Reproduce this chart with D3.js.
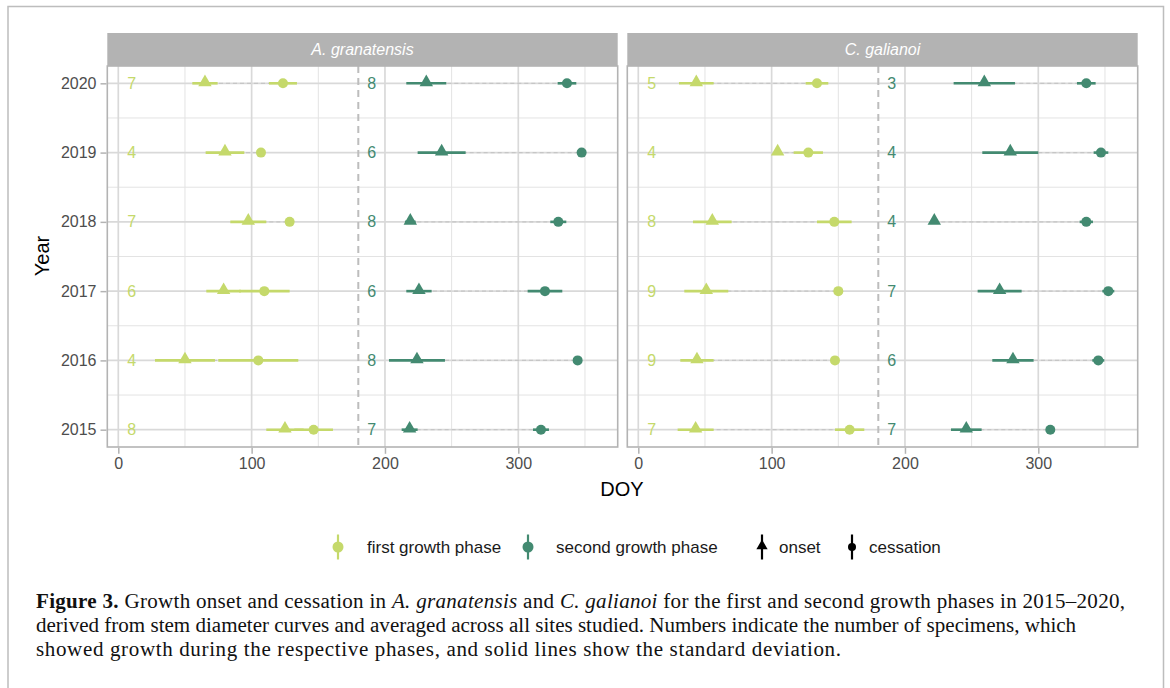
<!DOCTYPE html>
<html>
<head>
<meta charset="utf-8">
<script src="https://cdn.jsdelivr.net/npm/d3@7"></script>
<style>
  body { margin: 0; background: #fff; }
  svg { display: block; }
</style>
</head>
<body>
<div id="chart"></div>
<script>
// ---- data (rows 2020 -> 2015) ----
var years = [2020, 2019, 2018, 2017, 2016, 2015];
var species = ["A. granatensis", "C. galianoi"];
var xTicks = [0, 100, 200, 300];
var xMinor = [50, 150, 250, 350];

// A. granatensis, first growth phase
var agFirstOnset   = [65, 80, 97.5, 79, 50, 125];
var agFirstOnsetSd = [9.5, 14.5, 13.5, 13, 22.5, 14];
var agFirstCess    = [123.5, 107, 128.5, 109.5, 105, 146.5];
var agFirstCessSd  = [10.5, 2, 2, 19, 30, 14.5];
var agFirstN       = [7, 4, 7, 6, 4, 8];
// A. granatensis, second growth phase
var agSecOnset   = [231, 242.5, 219, 225.5, 224, 218.5];
var agSecOnsetSd = [15, 18, 4, 9.5, 21, 6];
var agSecCess    = [336.5, 347.5, 330, 320, 344.5, 317];
var agSecCessSd  = [7, 2, 6, 13, 2, 6];
var agSecN       = [8, 6, 8, 6, 8, 7];
// C. galianoi, first growth phase
var cgFirstOnset   = [43.5, 104.5, 55.5, 51, 44, 43];
var cgFirstOnsetSd = [13, 2, 14.5, 16.5, 12.5, 13.5];
var cgFirstCess    = [134, 127.5, 147, 150, 147.5, 158.5];
var cgFirstCessSd  = [8.5, 11, 13, 2, 2, 11];
var cgFirstN       = [5, 4, 8, 9, 9, 7];
// C. galianoi, second growth phase
var cgSecOnset   = [259.5, 279, 222, 271, 281, 246];
var cgSecOnsetSd = [23, 21, 2, 16.5, 15.5, 11.5];
var cgSecCess    = [336, 347, 336, 352.5, 345, 309];
var cgSecCessSd  = [7, 5.5, 5, 4.5, 4.5, 2];
var cgSecN       = [3, 4, 4, 7, 6, 7];

var phaseBreak = 180;
var labelPos = [10, 190];   // DOY where the counts are printed

var phases = ["first growth phase", "second growth phase"];
var phaseColor = ["#c5d96b", "#438a71"];

function rows(onset, onsetSd, cess, cessSd, n, phase) {
  return years.map(function(y, i) {
    return {year: y, onset: onset[i], onsetSd: onsetSd[i], cess: cess[i], cessSd: cessSd[i], n: n[i], phase: phase};
  });
}
var panels = [
  rows(agFirstOnset, agFirstOnsetSd, agFirstCess, agFirstCessSd, agFirstN, 0)
    .concat(rows(agSecOnset, agSecOnsetSd, agSecCess, agSecCessSd, agSecN, 1)),
  rows(cgFirstOnset, cgFirstOnsetSd, cgFirstCess, cgFirstCessSd, cgFirstN, 0)
    .concat(rows(cgSecOnset, cgSecOnsetSd, cgSecCess, cgSecCessSd, cgSecN, 1))
];

// ---- layout ----
var W = 1170, H = 688;
var panelLeft = [107.3, 627.3], panelW = 510.4;
var panelTop = 66, panelBottom = 447, stripTop = 33;

var svg = d3.select("#chart").append("svg")
  .attr("width", W).attr("height", H);

// outer frame
svg.append("path")
  .attr("d", "M8,700 V6.5 H1163.5 V700")
  .attr("fill", "none").attr("stroke", "#bdbdbd").attr("stroke-width", 1.5);

var y = d3.scaleLinear().domain([2014.75, 2020.25]).range([panelBottom, panelTop]);
var yMinor = d3.range(2015.5, 2020, 1);

var tri = d3.symbol().type(d3.symbolTriangle).size(78);

panels.forEach(function(data, p) {
  var x = d3.scaleLinear().domain([-8.25, 374.55]).range([panelLeft[p], panelLeft[p] + panelW]);
  var g = svg.append("g");

  // strip
  g.append("rect")
    .attr("x", panelLeft[p]).attr("y", stripTop)
    .attr("width", panelW).attr("height", panelTop - stripTop)
    .attr("fill", "#b3b3b3");
  g.append("text")
    .attr("x", panelLeft[p] + panelW / 2).attr("y", (stripTop + panelTop) / 2 + 5.5)
    .attr("text-anchor", "middle")
    .attr("font-family", "Liberation Sans, Arial, sans-serif")
    .attr("font-style", "italic").attr("font-size", 16)
    .attr("fill", "#fff")
    .text(species[p]);

  // grid
  g.selectAll(".gxm").data(xMinor).enter().append("line")
    .attr("x1", x).attr("x2", x).attr("y1", panelTop).attr("y2", panelBottom)
    .attr("stroke", "#e3e3e3").attr("stroke-width", 1);
  g.selectAll(".gym").data(yMinor).enter().append("line")
    .attr("x1", panelLeft[p]).attr("x2", panelLeft[p] + panelW)
    .attr("y1", y).attr("y2", y)
    .attr("stroke", "#e3e3e3").attr("stroke-width", 1);
  g.selectAll(".gx").data(xTicks).enter().append("line")
    .attr("x1", x).attr("x2", x).attr("y1", panelTop).attr("y2", panelBottom)
    .attr("stroke", "#d9d9d9").attr("stroke-width", 1.7);
  g.selectAll(".gy").data(years).enter().append("line")
    .attr("x1", panelLeft[p]).attr("x2", panelLeft[p] + panelW)
    .attr("y1", y).attr("y2", y)
    .attr("stroke", "#d9d9d9").attr("stroke-width", 1.7);

  // phase separator
  g.append("line")
    .attr("x1", x(phaseBreak)).attr("x2", x(phaseBreak))
    .attr("y1", panelTop).attr("y2", panelBottom)
    .attr("stroke", "#bdbdbd").attr("stroke-width", 2)
    .attr("stroke-dasharray", "7,5");

  // onset -> cessation connector
  g.selectAll(".conn").data(data).enter().append("line")
    .attr("x1", function(d) { return x(d.onset); })
    .attr("x2", function(d) { return x(d.cess); })
    .attr("y1", function(d) { return y(d.year); })
    .attr("y2", function(d) { return y(d.year); })
    .attr("stroke", "#c6c6c6").attr("stroke-width", 1.2)
    .attr("stroke-dasharray", "4,3");

  // sd bars
  g.selectAll(".sdo").data(data).enter().append("line")
    .attr("x1", function(d) { return x(d.onset - d.onsetSd); })
    .attr("x2", function(d) { return x(d.onset + d.onsetSd); })
    .attr("y1", function(d) { return y(d.year); })
    .attr("y2", function(d) { return y(d.year); })
    .attr("stroke", function(d) { return phaseColor[d.phase]; })
    .attr("stroke-width", 2.6);
  g.selectAll(".sdc").data(data).enter().append("line")
    .attr("x1", function(d) { return x(d.cess - d.cessSd); })
    .attr("x2", function(d) { return x(d.cess + d.cessSd); })
    .attr("y1", function(d) { return y(d.year); })
    .attr("y2", function(d) { return y(d.year); })
    .attr("stroke", function(d) { return phaseColor[d.phase]; })
    .attr("stroke-width", 2.6);

  // markers
  g.selectAll(".on").data(data).enter().append("path")
    .attr("d", tri)
    .attr("transform", function(d) { return "translate(" + x(d.onset) + "," + (y(d.year) - 1) + ")"; })
    .attr("fill", function(d) { return phaseColor[d.phase]; });
  g.selectAll(".ce").data(data).enter().append("circle")
    .attr("cx", function(d) { return x(d.cess); })
    .attr("cy", function(d) { return y(d.year); })
    .attr("r", 5)
    .attr("fill", function(d) { return phaseColor[d.phase]; });

  // counts
  g.selectAll(".cnt").data(data).enter().append("text")
    .attr("x", function(d) { return x(labelPos[d.phase]); })
    .attr("y", function(d) { return y(d.year) + 5.5; })
    .attr("text-anchor", "middle")
    .attr("font-family", "Liberation Sans, Arial, sans-serif")
    .attr("font-size", 16)
    .attr("fill", function(d) { return phaseColor[d.phase]; })
    .text(function(d) { return d.n; });

  // border
  g.append("rect")
    .attr("x", panelLeft[p]).attr("y", panelTop)
    .attr("width", panelW).attr("height", panelBottom - panelTop)
    .attr("fill", "none").attr("stroke", "#b3b3b3").attr("stroke-width", 1.6);

  // x axis
  var ax = svg.append("g")
    .attr("transform", "translate(0," + (panelBottom + 0.8) + ")")
    .call(d3.axisBottom(x).tickValues(xTicks).tickSize(6).tickPadding(4));
  ax.select(".domain").remove();
  ax.selectAll("line").attr("stroke", "#b3b3b3").attr("stroke-width", 1.5);
  ax.selectAll("text").attr("fill", "#4d4d4d")
    .attr("font-family", "Liberation Sans, Arial, sans-serif").attr("font-size", 16);
});

// y axis
var ay = svg.append("g")
  .attr("transform", "translate(" + (panelLeft[0] - 0.8) + ",0)")
  .call(d3.axisLeft(y).tickValues(years).tickFormat(d3.format("d")).tickSize(6).tickPadding(4));
ay.select(".domain").remove();
ay.selectAll("line").attr("stroke", "#b3b3b3").attr("stroke-width", 1.5);
ay.selectAll("text").attr("fill", "#4d4d4d")
  .attr("font-family", "Liberation Sans, Arial, sans-serif").attr("font-size", 16);

// axis titles
svg.append("text")
  .attr("transform", "translate(49,256) rotate(-90)")
  .attr("text-anchor", "middle")
  .attr("font-family", "Liberation Sans, Arial, sans-serif").attr("font-size", 20)
  .attr("fill", "#000").text("Year");
svg.append("text")
  .attr("x", 622).attr("y", 496)
  .attr("text-anchor", "middle")
  .attr("font-family", "Liberation Sans, Arial, sans-serif").attr("font-size", 20)
  .attr("fill", "#000").text("DOY");

// legend
var legY = 547;
var legend = [
  {x: 338, color: phaseColor[0], shape: "circle", label: phases[0], tx: 367},
  {x: 528, color: phaseColor[1], shape: "circle", label: phases[1], tx: 556},
  {x: 762, color: "#000", shape: "tri", label: "onset", tx: 779},
  {x: 852, color: "#000", shape: "circle", label: "cessation", tx: 869}
];
var lg = svg.append("g");
legend.forEach(function(d) {
  lg.append("line")
    .attr("x1", d.x).attr("x2", d.x).attr("y1", legY - 12.5).attr("y2", legY + 12.5)
    .attr("stroke", d.color).attr("stroke-width", 2.2);
  if (d.shape === "circle") {
    var r = d.color === "#000" ? 4 : 5.5;
    lg.append("circle").attr("cx", d.x).attr("cy", legY).attr("r", r).attr("fill", d.color);
  } else {
    lg.append("path").attr("d", d3.symbol().type(d3.symbolTriangle).size(55))
      .attr("transform", "translate(" + d.x + "," + (legY - 1) + ")").attr("fill", d.color);
  }
  lg.append("text")
    .attr("x", d.tx).attr("y", legY + 6)
    .attr("font-family", "Liberation Sans, Arial, sans-serif").attr("font-size", 17)
    .attr("fill", "#1a1a1a").text(d.label);
});

// caption
var cap = svg.append("g")
  .attr("font-family", "Liberation Serif, Times New Roman, serif")
  .attr("fill", "#111");
var l1 = cap.append("text").attr("x", 36).attr("y", 608);
l1.append("tspan").attr("font-weight", "bold").text("Figure 3.");
l1.append("tspan").text(" Growth onset and cessation in ");
l1.append("tspan").attr("font-style", "italic").text("A. granatensis");
l1.append("tspan").text(" and ");
l1.append("tspan").attr("font-style", "italic").text("C. galianoi");
l1.append("tspan").text(" for the first and second growth phases in 2015\u20132020,");
var l2 = cap.append("text").attr("x", 36).attr("y", 632)
  .text("derived from stem diameter curves and averaged across all sites studied. Numbers indicate the number of specimens, which");
var l3 = cap.append("text").attr("x", 36).attr("y", 656)
  .text("showed growth during the respective phases, and solid lines show the standard deviation.");

// size the caption font so line 2 spans the same width as in the figure,
// then stretch the spacing of lines 1 and 3 to the widths they have there
cap.attr("font-size", 18);
var w2 = l2.node().getComputedTextLength();
cap.attr("font-size", 18 * 1041 / w2);
l1.attr("textLength", 1089).attr("lengthAdjust", "spacing");
l3.attr("textLength", 805).attr("lengthAdjust", "spacing");
</script>
</body>
</html>
